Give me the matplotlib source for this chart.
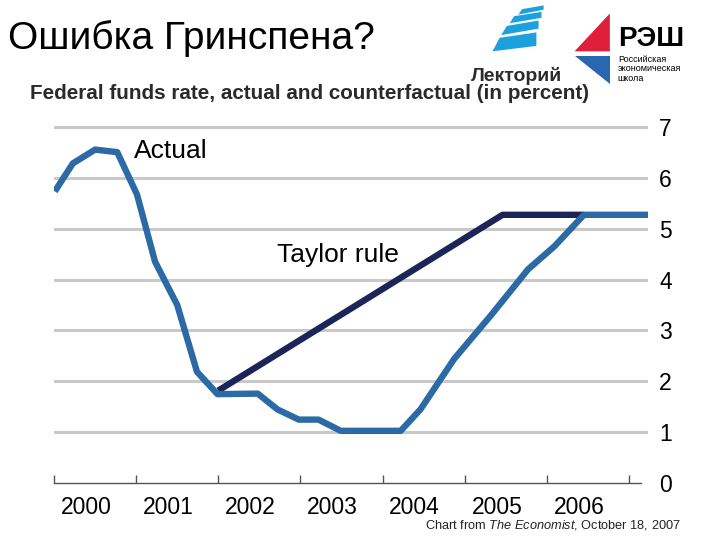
import numpy as np
import matplotlib
matplotlib.use("Agg")
import matplotlib.pyplot as plt
from matplotlib.patches import Polygon

plt.rcParams["font.family"] = ["Liberation Sans", "DejaVu Sans"]
plt.rcParams["mathtext.fontset"] = "custom"
plt.rcParams["mathtext.it"] = "Liberation Sans:italic"
plt.rcParams["mathtext.rm"] = "Liberation Sans"

# ---- data (year fraction, percent) ------------------------------------------
actual_t = [2000.01, 2000.23, 2000.50, 2000.77, 2001.01, 2001.23, 2001.50, 2001.74,
            2001.99, 2002.48, 2002.72, 2002.98, 2003.22, 2003.49, 2004.22, 2004.46,
            2004.87, 2005.32, 2005.77, 2006.09, 2006.45, 2007.23]
actual_v = [5.73, 6.28, 6.55, 6.50, 5.67, 4.35, 3.50, 2.19,
            1.75, 1.76, 1.45, 1.25, 1.25, 1.03, 1.03, 1.45,
            2.44, 3.30, 4.20, 4.65, 5.27, 5.27]
taylor_t = [2002.00, 2005.46, 2006.45]
taylor_v = [1.82, 5.27, 5.27]
years = [2000, 2001, 2002, 2003, 2004, 2005, 2006]
yticks = [0, 1, 2, 3, 4, 5, 6, 7]

BLUE, NAVY, GRID = "#2c6aa5", "#1c2558", "#c9c9c9"

fig = plt.figure(figsize=(7.2, 5.4), dpi=100)

# ---- slide header -----------------------------------------------------------
fig.text(0.011, 0.928, "Ошибка Гринспена?", fontsize=28, ha="left", va="center")

# Лекторий logo (simplified)
steps = [[(0.684, 0.905), (0.745, 0.915), (0.745, 0.94), (0.694, 0.93)],
         [(0.696, 0.935), (0.748, 0.947), (0.748, 0.962), (0.704, 0.952)],
         [(0.708, 0.957), (0.752, 0.967), (0.752, 0.978), (0.714, 0.970)],
         [(0.720, 0.973), (0.755, 0.982), (0.755, 0.99), (0.725, 0.983)]]
for s in steps:
    fig.patches.append(Polygon(s, closed=True, transform=fig.transFigure,
                               color="#1ba1dd", lw=0))
fig.text(0.718, 0.860, "Лекторий", fontsize=14, fontweight="bold",
         color="#2b2b2b", ha="center", va="center")

# РЭШ logo (simplified)
fig.patches.append(Polygon([(0.798, 0.905), (0.847, 0.975), (0.847, 0.905)],
                           closed=True, transform=fig.transFigure, color="#e0203a", lw=0))
fig.patches.append(Polygon([(0.798, 0.897), (0.847, 0.897), (0.847, 0.845)],
                           closed=True, transform=fig.transFigure, color="#2a67b1", lw=0))
fig.text(0.858, 0.928, "РЭШ", fontsize=20, fontweight="bold", ha="left", va="center")
fig.text(0.858, 0.898, "Российская\nэкономическая\nшкола", fontsize=6.5,
         ha="left", va="top", linespacing=1.05)

# ---- chart ------------------------------------------------------------------
ax = fig.add_axes([0.075, 0.105, 0.825, 0.684])
ax.set_xlim(2000, 2007.23)
ax.set_ylim(0, 7.25)

for v in yticks[1:]:
    ax.axhline(v, color=GRID, lw=2.2, zorder=1)

ax.plot(taylor_t, taylor_v, color=NAVY, lw=4.6, solid_capstyle="butt", zorder=3)
ax.plot(actual_t, actual_v, color=BLUE, lw=4.6, solid_capstyle="butt",
        solid_joinstyle="round", zorder=4)

for sp in ["top", "left", "right"]:
    ax.spines[sp].set_visible(False)
ax.spines["bottom"].set_color("#555555")
ax.spines["bottom"].set_linewidth(1.0)
ax.spines["bottom"].set_bounds(2000, 2007.15)

ax.set_xticks(years + [2007])
ax.set_xticklabels([])
ax.set_xticks([y + 0.39 for y in years], minor=True)
ax.set_xticklabels([str(y) for y in years], minor=True, fontsize=16.5)
ax.tick_params(axis="x", which="major", direction="in", length=6, width=1, color="#555555")
ax.tick_params(axis="x", which="minor", length=0, pad=9)

ax.yaxis.tick_right()
ax.set_yticks(yticks)
ax.set_yticklabels([str(v) for v in yticks], fontsize=16.5)
ax.tick_params(axis="y", length=0, pad=8)

ax.text(2000.97, 6.53, "Actual", fontsize=19, ha="left", va="center")
ax.text(2002.72, 4.49, "Taylor rule", fontsize=19, ha="left", va="center")

fig.text(0.042, 0.826, "Federal funds rate, actual and counterfactual (in percent)",
         fontsize=14.9, fontweight="bold", color="#2a2a2a", ha="left", va="center")
fig.text(0.945, 0.028, "Chart from $\\it{The\\ Economist}$, October 18, 2007",
         fontsize=9.2, ha="right", va="center", color="#222222")

fig.savefig("out.png", dpi=100)
